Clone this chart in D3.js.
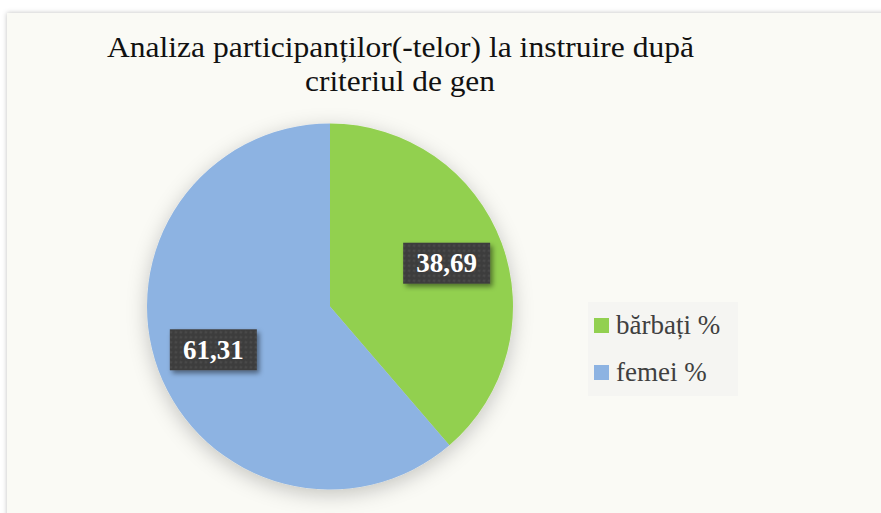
<!DOCTYPE html>
<html lang="en">
<head>
  <meta charset="utf-8">
  <title>Analiza participanților după criteriul de gen</title>
  <script src="https://cdn.jsdelivr.net/npm/d3@7/dist/d3.min.js"></script>
  <style>
    html, body { margin: 0; padding: 0; background: #ffffff; }
    svg { display: block; }
  </style>
</head>
<body>
  <div id="chart"></div>

  <script>
    // ───────── data ─────────
    const categories = ['bărbați %', 'femei %'];
    const values     = [38.69, 61.31];
    const labels     = ['38,69', '61,31'];
    const colors     = ['#92d050', '#8db3e2'];
    const titleLines = ['Analiza participanților(-telor) la instruire după', 'criteriul de gen'];

    // ───────── layout ─────────
    const W = 881, H = 513;
    const cx = 330, cy = 306.5, R = 183;
    const serif = "'Liberation Serif', 'DejaVu Serif', serif";

    const svg = d3.select('#chart').append('svg')
      .attr('width', W).attr('height', H);

    const defs = svg.append('defs');

    // frame shadow
    const fs = defs.append('filter').attr('id', 'frameShadow')
      .attr('x', '-5%').attr('y', '-5%').attr('width', '110%').attr('height', '110%');
    fs.append('feDropShadow').attr('dx', 0).attr('dy', 0)
      .attr('stdDeviation', 2.5).attr('flood-color', '#000').attr('flood-opacity', 0.25);

    // pie shadow
    const ps = defs.append('filter').attr('id', 'pieShadow')
      .attr('x', '-20%').attr('y', '-20%').attr('width', '140%').attr('height', '140%');
    ps.append('feDropShadow').attr('dx', 0).attr('dy', 5)
      .attr('stdDeviation', 10).attr('flood-color', '#000').attr('flood-opacity', 0.22);

    // label shadow
    const ls = defs.append('filter').attr('id', 'labelShadow')
      .attr('x', '-20%').attr('y', '-30%').attr('width', '150%').attr('height', '180%');
    ls.append('feDropShadow').attr('dx', 2.5).attr('dy', 3)
      .attr('stdDeviation', 2.5).attr('flood-color', '#000').attr('flood-opacity', 0.45);

    // dotted pattern for the label boxes
    const pat = defs.append('pattern').attr('id', 'dots')
      .attr('width', 5).attr('height', 5).attr('patternUnits', 'userSpaceOnUse');
    pat.append('rect').attr('width', 5).attr('height', 5).attr('fill', '#3d3d3d');
    pat.append('rect').attr('x', 1.5).attr('y', 1.5).attr('width', 2).attr('height', 2)
      .attr('fill', '#4e4e4e');

    // chart frame
    svg.append('rect')
      .attr('x', 7).attr('y', 13).attr('width', W + 10).attr('height', H + 10)
      .attr('fill', '#fafaf5')
      .attr('filter', 'url(#frameShadow)');

    // title (condensed serif look)
    const title = svg.append('g')
      .attr('font-family', serif)
      .attr('font-size', 29)
      .attr('fill', '#111111');
    title.append('text').attr('x', 107).attr('y', 57)
      .attr('textLength', 587).attr('lengthAdjust', 'spacingAndGlyphs')
      .text(titleLines[0]);
    title.append('text').attr('x', 305).attr('y', 91)
      .attr('textLength', 190).attr('lengthAdjust', 'spacingAndGlyphs')
      .text(titleLines[1]);

    // pie
    const pie = d3.pie().sort(null).value(d => d)
      .startAngle(0).endAngle(2 * Math.PI);
    const arcs = pie(values);
    const arc = d3.arc().innerRadius(0).outerRadius(R);
    const labelArc = d3.arc().innerRadius(R * 0.68).outerRadius(R * 0.68);

    const g = svg.append('g').attr('transform', `translate(${cx},${cy})`);

    g.append('g').attr('filter', 'url(#pieShadow)')
      .selectAll('path')
      .data(arcs)
      .join('path')
        .attr('d', arc)
        .attr('fill', (d, i) => colors[i]);

    // data labels
    const lab = g.append('g').selectAll('g')
      .data(arcs)
      .join('g')
        .attr('transform', d => `translate(${labelArc.centroid(d)})`);

    lab.append('rect')
      .attr('x', -43.5).attr('y', -20.5)
      .attr('width', 87).attr('height', 41)
      .attr('fill', 'url(#dots)')
      .attr('filter', 'url(#labelShadow)');

    lab.append('text')
      .attr('text-anchor', 'middle')
      .attr('dy', '0.34em')
      .attr('font-family', serif)
      .attr('font-weight', 'bold')
      .attr('font-size', 27)
      .attr('fill', '#ffffff')
      .text((d, i) => labels[i]);

    // legend
    const legend = svg.append('g').attr('transform', 'translate(588,302)');
    legend.append('rect')
      .attr('width', 150).attr('height', 94)
      .attr('fill', '#f5f5f2');

    const item = legend.selectAll('g.item')
      .data(categories)
      .join('g')
        .attr('class', 'item')
        .attr('transform', (d, i) => `translate(6,${16 + i * 47})`);

    item.append('rect')
      .attr('width', 15).attr('height', 15)
      .attr('fill', (d, i) => colors[i]);

    item.append('text')
      .attr('x', 22).attr('y', 16)
      .attr('font-family', serif)
      .attr('font-size', 27)
      .attr('fill', '#404040')
      .text(d => d);
  </script>
</body>
</html>
